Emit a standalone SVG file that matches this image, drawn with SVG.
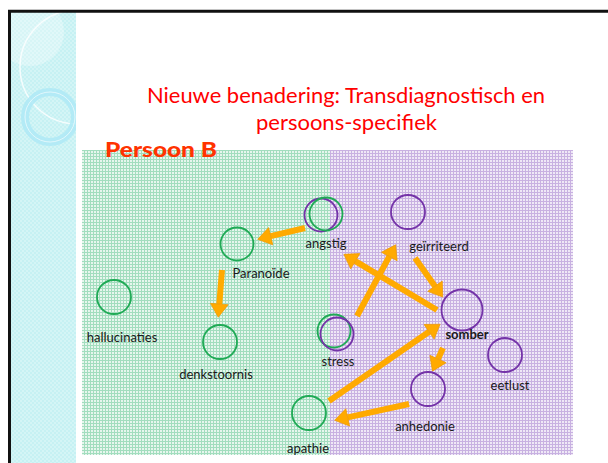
<svg xmlns="http://www.w3.org/2000/svg" width="608" height="463" viewBox="0 0 608 463">
<defs>
<style>
.lbl{font-family:Lato,"Open Sans","Liberation Sans",sans-serif;font-size:13px;fill:#1a1a1a}
.g{fill:none;stroke:#1faa55;stroke-width:1.8}
.p{fill:none;stroke:#7433a8;stroke-width:1.8}
.arr{stroke:#ffaa00;stroke-width:6;fill:none;marker-end:url(#ah)}
</style>
<pattern id="gp" width="3" height="3" patternUnits="userSpaceOnUse">
<rect width="3" height="3" fill="#e6f6ed"/>
<rect width="3" height="1" fill="#a2ddbe"/>
<rect width="1" height="3" fill="#a2ddbe"/>
</pattern>
<pattern id="pp" width="3" height="3" patternUnits="userSpaceOnUse">
<rect width="3" height="3" fill="#efe8f6"/>
<rect width="3" height="1" fill="#c8b1e1"/>
<rect width="1" height="3" fill="#c8b1e1"/>
</pattern>
<pattern id="cp" width="4" height="4" patternUnits="userSpaceOnUse">
<rect width="4" height="4" fill="#c6f1f3"/>
<rect width="2" height="2" fill="#d4f5f6"/>
<rect x="2" y="2" width="2" height="2" fill="#d4f5f6"/>
</pattern>
<marker id="ah" markerUnits="userSpaceOnUse" markerWidth="16" markerHeight="20" viewBox="0 -9 13 18" refX="0" refY="0" orient="auto">
<path d="M0,-8 L12,0 L0,8 z" fill="#ffaa00" stroke="#ee9900" stroke-width="0.6"/>
</marker>
<clipPath id="band"><rect x="11" y="12" width="65" height="451"/></clipPath>
</defs>
<rect width="608" height="463" fill="#ffffff"/>
<g id="background">
<rect x="11" y="12" width="65" height="451" fill="url(#cp)"/>
<g clip-path="url(#band)">
<circle cx="30" cy="32" r="34" fill="#ffffff" opacity="0.3"/>
<circle cx="77" cy="67" r="57" fill="none" stroke="#ffffff" stroke-width="1.5" opacity="0.8"/>
<circle cx="50" cy="117" r="25" fill="none" stroke="#aee9f6" stroke-width="8" opacity="0.85"/>
<circle cx="50" cy="117" r="25" fill="none" stroke="#ffffff" stroke-width="1" opacity="0.6"/>
</g>
<path d="M9.5,463 V11.3 H608" fill="none" stroke="#111111" stroke-width="3"/>
<rect x="82" y="150" width="248" height="305" fill="url(#gp)"/>
<rect x="330" y="150" width="243" height="305" fill="url(#pp)"/>
</g>
<g id="title" font-family="Lato,'Open Sans','Liberation Sans',sans-serif" fill="#ff0000" font-size="21" text-anchor="middle">
<text x="346" y="103" textLength="398" lengthAdjust="spacingAndGlyphs">Nieuwe benadering: Transdiagnostisch en</text>
<text x="346.5" y="130" textLength="181" lengthAdjust="spacingAndGlyphs">persoons-specifiek</text>
</g>
<text id="persoon" x="105" y="157" font-family="Lato,'Open Sans','Liberation Sans',sans-serif" font-weight="900" font-size="20" fill="#ff3300" textLength="112" lengthAdjust="spacingAndGlyphs">Persoon B</text>
<g id="connectors">
<line class="arr" x1="305" y1="228" x2="270.7" y2="236.2"/>
<line class="arr" x1="222" y1="270" x2="219.3" y2="304"/>
<line class="arr" x1="357" y1="316" x2="389.3" y2="256.5"/>
<line class="arr" x1="437" y1="310" x2="355.3" y2="261.2"/>
<line class="arr" x1="415" y1="258" x2="435" y2="286.2"/>
<line class="arr" x1="329" y1="401" x2="429.1" y2="331.8"/>
<line class="arr" x1="443" y1="348" x2="438" y2="359"/>
<line class="arr" x1="409" y1="404" x2="347.7" y2="417.4"/>
</g>
<g id="angstig">
<circle class="p" cx="321" cy="215" r="16.5"/>
<circle class="g" cx="326" cy="214" r="16.5"/>
<text class="lbl" x="326" y="248" text-anchor="middle">angstig</text>
</g>
<g id="geirriteerd">
<circle class="p" cx="408" cy="212" r="17"/>
<text class="lbl" x="439" y="251" text-anchor="middle">geïrriteerd</text>
</g>
<g id="paranoide">
<circle class="g" cx="237" cy="244" r="16.5"/>
<text class="lbl" x="261" y="278" text-anchor="middle">Paranoïde</text>
</g>
<g id="hallucinaties">
<circle class="g" cx="114" cy="297" r="17"/>
<text class="lbl" x="122" y="342" text-anchor="middle">hallucinaties</text>
</g>
<g id="denkstoornis">
<circle class="g" cx="220" cy="342" r="17"/>
<text class="lbl" x="216" y="379" text-anchor="middle">denkstoornis</text>
</g>
<g id="stress">
<circle class="g" cx="334" cy="331" r="16.5"/>
<circle class="p" cx="337" cy="334" r="16.5"/>
<text class="lbl" x="338" y="366" text-anchor="middle">stress</text>
</g>
<g id="somber">
<circle class="p" cx="462" cy="310" r="20.5"/>
<text class="lbl" x="467" y="339" text-anchor="middle" font-weight="bold" font-size="13.5">somber</text>
</g>
<g id="eetlust">
<circle class="p" cx="505" cy="355" r="17"/>
<text class="lbl" x="510" y="390" text-anchor="middle">eetlust</text>
</g>
<g id="anhedonie">
<circle class="p" cx="428" cy="389" r="17"/>
<text class="lbl" x="425" y="431" text-anchor="middle">anhedonie</text>
</g>
<g id="apathie">
<circle class="g" cx="309" cy="413" r="17"/>
<text class="lbl" x="308" y="453" text-anchor="middle">apathie</text>
</g>
</svg>
